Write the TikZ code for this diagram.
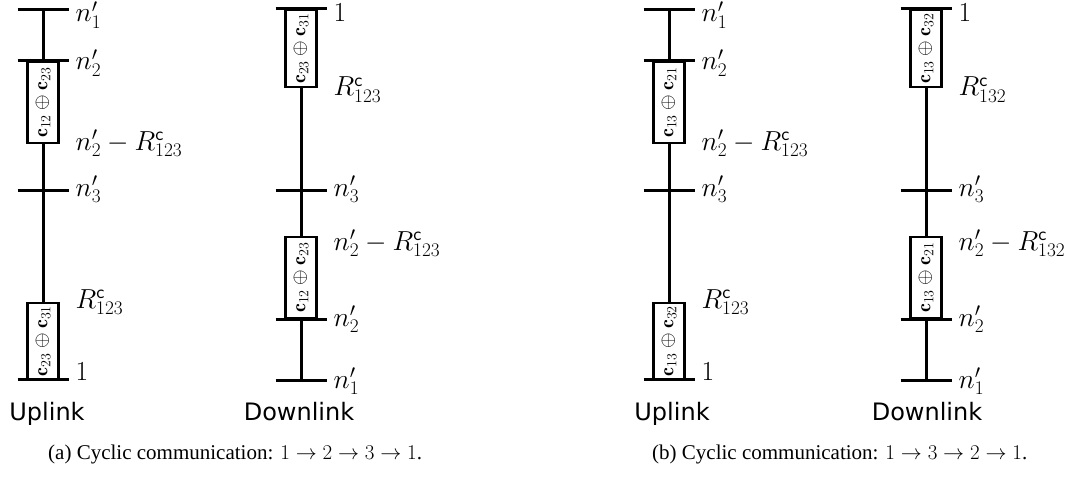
\RequirePackage{fix-cm}
\documentclass[tikz,border=0pt]{standalone}
\usepackage{fontspec}
\newfontfamily\dirfont{DejaVu Sans}
\newfontfamily\capfont{Liberation Serif}
\tikzset{
  stemline/.style={line width=3pt},
  cbox/.style={draw,line width=2.4pt,fill=white,minimum width=31pt,inner sep=0pt,
    font=\fontsize{20}{24}\selectfont},
  lbl/.style={anchor=base west,inner sep=0pt,font=\fontsize{27.5}{32}\selectfont},
  dirlbl/.style={anchor=base,inner sep=0pt,font=\dirfont\fontsize{24}{28}\selectfont},
  caplbl/.style={anchor=base west,inner sep=0pt,font=\capfont\fontsize{21}{25}\selectfont}}
\newcommand{\UpCol}[5]{%
  \coordinate (#1t1) at (#2,10);
  \node[cbox,minimum height=81pt] (#1b1) at (#2,102.5) {\rotatebox{90}{$#3$}};
  \coordinate (#1t3) at (#2,190);
  \node[cbox,minimum height=76pt] (#1b2) at (#2,341) {\rotatebox{90}{$#4$}};
  \coordinate (#1t4) at (#2,379);
  \draw[stemline] (#1t1) -- (#1b1.north);
  \draw[stemline] (#1b1.south) -- (#1t3) -- (#1b2.north);
  \foreach \tk in {t1,b1.north,t3,t4}
    {\draw[stemline] ([xshift=-25.5pt]#1\tk) -- ([xshift=25.5pt]#1\tk);}
  \node[lbl] (#1l1) at (#2+32.5,22) {$n'_1$};
  \node[lbl] (#1l2) at (#2+32.5,70) {$n'_2$};
  \node[lbl] (#1l3) at (#2+32.5,150) {$n'_2-R^{\mathsf{c}}_{#5}$};
  \node[lbl] (#1l4) at (#2+32.5,196) {$n'_3$};
  \node[lbl] (#1l5) at (#2+32.5,308) {$R^{\mathsf{c}}_{#5}$};
  \node[lbl] (#1l6) at (#2+32.5,380) {$1$};
}
\newcommand{\DownCol}[5]{%
  \node[cbox,minimum height=77pt] (#1b1) at (#2,48.5) {\rotatebox{90}{$#3$}};
  \coordinate (#1t3) at (#2,190);
  \node[cbox,minimum height=81pt] (#1b2) at (#2,277.5) {\rotatebox{90}{$#4$}};
  \coordinate (#1t5) at (#2,380);
  \draw[stemline] (#1b1.south) -- (#1t3) -- (#1b2.north);
  \draw[stemline] (#1b2.south) -- (#1t5);
  \foreach \tk in {b1.north,t3,b2.south,t5}
    {\draw[stemline] ([xshift=-25.5pt]#1\tk) -- ([xshift=25.5pt]#1\tk);}
  \node[lbl] (#1l1) at (#2+32.5,22) {$1$};
  \node[lbl] (#1l2) at (#2+32.5,96) {$R^{\mathsf{c}}_{#5}$};
  \node[lbl] (#1l3) at (#2+32.5,196) {$n'_3$};
  \node[lbl] (#1l4) at (#2+32.5,250) {$n'_2-R^{\mathsf{c}}_{#5}$};
  \node[lbl] (#1l5) at (#2+32.5,326) {$n'_2$};
  \node[lbl] (#1l6) at (#2+32.5,388) {$n'_1$};
}
\begin{document}
\begin{tikzpicture}[x=1pt,y=-1pt]
\useasboundingbox (0,0) rectangle (1073,492);
\UpCol{ua}{43}{\mathbf{c}_{12}\oplus\mathbf{c}_{23}}{\mathbf{c}_{23}\oplus\mathbf{c}_{31}}{123}
\DownCol{da}{301}{\mathbf{c}_{23}\oplus\mathbf{c}_{31}}{\mathbf{c}_{12}\oplus\mathbf{c}_{23}}{123}
\UpCol{ub}{669}{\mathbf{c}_{13}\oplus\mathbf{c}_{21}}{\mathbf{c}_{13}\oplus\mathbf{c}_{32}}{123}
\DownCol{db}{926}{\mathbf{c}_{13}\oplus\mathbf{c}_{32}}{\mathbf{c}_{13}\oplus\mathbf{c}_{21}}{132}
\node[dirlbl] (upa) at (47,420) {Uplink};
\node[dirlbl] (dna) at (299,420) {Downlink};
\node[dirlbl] (upb) at (672,420) {Uplink};
\node[dirlbl] (dnb) at (927,420) {Downlink};
\node[caplbl] (capa) at (48,459) {(a) Cyclic communication: $1\rightarrow 2\rightarrow 3\rightarrow 1$.};
\node[caplbl] (capb) at (652,459) {(b) Cyclic communication: $1\rightarrow 3\rightarrow 2\rightarrow 1$.};
\end{tikzpicture}
\end{document}
